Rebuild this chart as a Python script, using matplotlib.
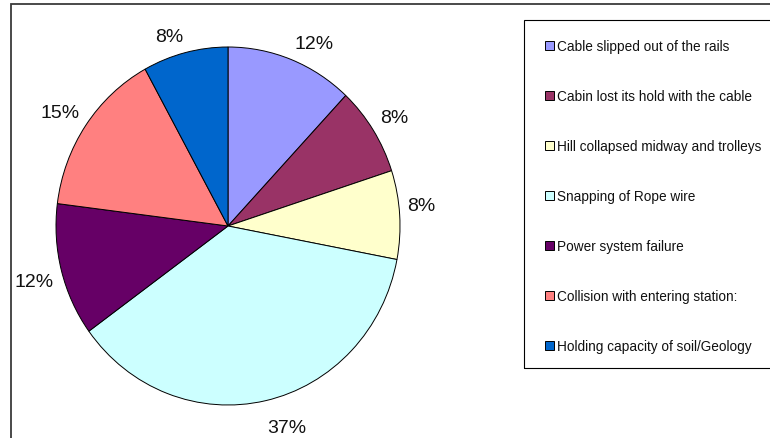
import numpy as np
import matplotlib.pyplot as plt
from matplotlib.patches import Rectangle

plt.rcParams['font.family'] = ['Liberation Sans', 'DejaVu Sans']

# Data
causes = ['Cable slipped out of the rails',
          'Cabin lost its hold with the cable',
          'Hill collapsed midway and trolleys',
          'Snapping of Rope wire',
          'Power system failure',
          'Collision with entering station:',
          'Holding capacity of soil/Geology']
shares = [12, 8, 8, 37, 12, 15, 8]
colors = ['#9999FF', '#993366', '#FFFFCC', '#CCFFFF', '#660066', '#FF8080', '#0066CC']

W, H = 770, 439
fig = plt.figure(figsize=(W / 100, H / 100), dpi=100)

# outer chart frame (runs off the right and bottom edges)
fig.patches.append(Rectangle((11 / W, -0.1), 1.0, (H - 5) / H + 0.1,
                             transform=fig.transFigure, fill=False,
                             edgecolor='#3a3a3a', linewidth=1.3))

# legend box (also runs off the right edge)
fig.patches.append(Rectangle((524 / W, (H - 369) / H), 0.4, 348 / H,
                             transform=fig.transFigure, fill=False,
                             edgecolor='black', linewidth=0.8))

# pie axes placed so the pie sits at (228, 227) px with radii 172 x 179
cx, cy, rx, ry, lim = 228, H - 227, 172, 179, 1.3
ax = fig.add_axes([(cx - lim * rx) / W, (cy - lim * ry) / H,
                   2 * lim * rx / W, 2 * lim * ry / H])

wedges, texts = ax.pie(shares, labels=[f'{s}%' for s in shares], colors=colors,
                       startangle=90, counterclock=False, labeldistance=1.045,
                       wedgeprops=dict(edgecolor='black', linewidth=0.7),
                       textprops=dict(fontsize=14, color='#111111'))
# Excel-style: put the label's near corner against the pie
for t in texts:
    x, y = t.get_position()
    t.set_ha('left' if x > 0 else 'right')
    if y > 0:
        t.set_va('bottom')
    else:
        s = y / 1.045
        t.set_position((x, y - 0.06 * s * s))
        t.set_va('top')
ax.set_aspect('auto')
ax.set_xlim(-lim, lim)
ax.set_ylim(-lim, lim)
ax.axis('off')

leg = fig.legend(wedges, causes, loc='upper left',
                 bbox_to_anchor=(545 / W, (H - 40.5) / H), bbox_transform=fig.transFigure,
                 fontsize=9.8, frameon=False,
                 handlelength=0.66, handleheight=0.66, handletextpad=0.25,
                 labelspacing=2.64, borderpad=0, borderaxespad=0)
for t in leg.get_texts():
    t.set_color('#111111')

fig.savefig('out.png', dpi=100)
